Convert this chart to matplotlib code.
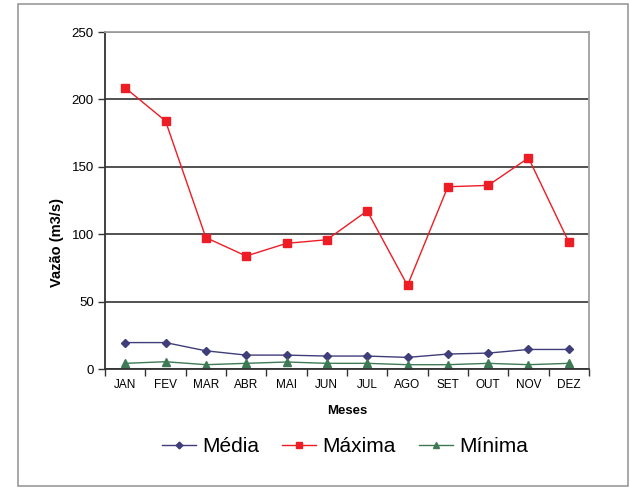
import numpy as np
import matplotlib
matplotlib.use("Agg")
import matplotlib.pyplot as plt
from matplotlib.patches import Rectangle

plt.rcParams['font.family'] = ['Liberation Sans', 'DejaVu Sans']

meses = ['JAN', 'FEV', 'MAR', 'ABR', 'MAI', 'JUN', 'JUL', 'AGO', 'SET', 'OUT', 'NOV', 'DEZ']
media = [19.6, 19.6, 13.5, 10.3, 10.3, 9.6, 9.6, 8.6, 11.1, 11.8, 14.5, 14.5]
maxima = [208.6, 184, 97.5, 83.8, 93.2, 95.9, 117.3, 62, 135.2, 136.2, 156.6, 94.1]
minima = [4.2, 5.4, 3.2, 4.2, 5.2, 4.2, 4.2, 3.2, 3.2, 4.2, 3.2, 4.2]

fig = plt.figure(figsize=(6.3, 4.88), dpi=100)
ax = fig.add_axes([105/630, 1 - 369/488, 484/630, 337/488])

# moldura externa
fig.patches.append(Rectangle((18/630, 2/488), 610/630, 482/488, transform=fig.transFigure,
                             fill=False, edgecolor='#9a9a9a', linewidth=1.2))

x = np.arange(len(meses))
ax.plot(x, media, color='#3f3d7a', lw=1.0, marker='D', ms=4.3, label='Média')
ax.plot(x, maxima, color='#ee1c25', lw=1.0, marker='s', ms=5.4, label='Máxima')
ax.plot(x, minima, color='#3e7a55', lw=1.0, marker='^', ms=6, label='Mínima')

ax.set_ylim(0, 250)
ax.set_xlim(-0.5, 11.5)
ax.set_yticks([0, 50, 100, 150, 200, 250])
ax.yaxis.grid(True, color='#333333', lw=1.2)
ax.set_axisbelow(True)

ax.set_xticks(np.arange(-0.5, 12, 1))
ax.set_xticklabels([])
ax.set_xticks(x, minor=True)
ax.set_xticklabels(meses, minor=True)
ax.tick_params(axis='x', which='major', direction='out', length=5, width=1, color='#333333')
ax.tick_params(axis='x', which='minor', length=0, labelsize=8.5, pad=7)
ax.tick_params(axis='y', direction='out', length=5, width=1, color='#333333', labelsize=9.5, pad=3)

for s in ['left', 'bottom']:
    ax.spines[s].set_color('#333333')
    ax.spines[s].set_linewidth(1.3)
for s in ['top', 'right']:
    ax.spines[s].set_color('#a0a0a0')
    ax.spines[s].set_linewidth(1.3)

ax.set_ylabel('Vazão (m3/s)', fontsize=10.5, fontweight='bold')
ax.yaxis.set_label_coords(-0.085, 0.374)
ax.set_xlabel('Meses', fontsize=9.5, fontweight='bold', labelpad=10)

fig.legend(loc='center', bbox_to_anchor=(345/630, 1 - 447/488), ncol=3, frameon=False,
           fontsize=15, handlelength=1.65, handletextpad=0.3, columnspacing=1.1, markerscale=0.8)

fig.savefig('out.png', dpi=100)
